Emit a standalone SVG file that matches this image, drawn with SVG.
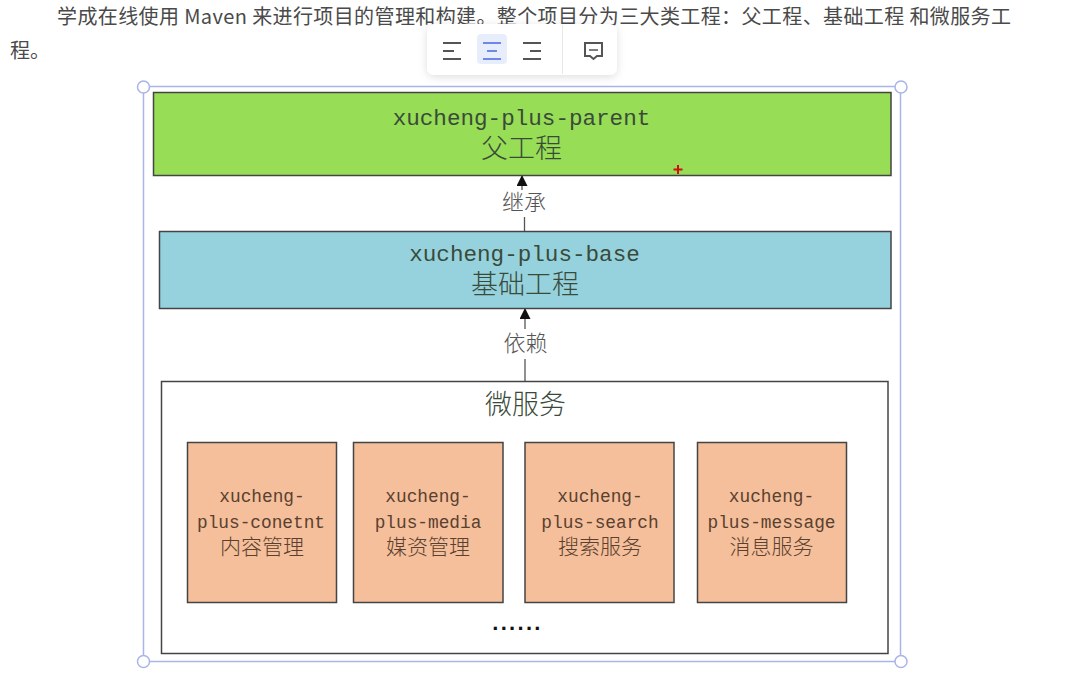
<svg xmlns="http://www.w3.org/2000/svg" width="1078" height="685" viewBox="0 0 1078 685">
<style>
.para{font-family:"Noto Sans CJK SC","Noto Sans",sans-serif;font-size:20px;fill:#4a4a4a}
.box{stroke:#444;stroke-width:1.5}
.big{font-family:"Liberation Mono","Noto Sans CJK SC",monospace;font-size:22.6px;fill:#3a4a3a;text-anchor:middle}
.bigz{font-family:"Noto Sans CJK SC",sans-serif;font-weight:300;font-size:27px;fill:#3a4a3a;text-anchor:middle}
.lab{font-family:"Noto Sans CJK SC",sans-serif;font-weight:300;font-size:22px;fill:#555;text-anchor:middle}
.sm{font-family:"Liberation Mono","Noto Sans CJK SC",monospace;font-size:17.8px;fill:#5a4030;text-anchor:middle}
.smz{font-family:"Noto Sans CJK SC",sans-serif;font-weight:300;font-size:21px}
.svc{fill:#f4bf9a}
.h{fill:#fff;stroke:#a9b4e8;stroke-width:1.5}
.tb{stroke:#555;stroke-width:2;fill:none}
.conn{stroke:#555;stroke-width:1.3;fill:none}
</style>
<defs>
<marker id="ah" markerUnits="userSpaceOnUse" markerWidth="11" markerHeight="12" refX="10" refY="5.5" orient="auto"><path d="M0,0L11,5.5L0,11Z" fill="#111"/></marker>
<filter id="sh" x="-10%" y="-20%" width="120%" height="150%"><feDropShadow dx="0" dy="2" stdDeviation="4" flood-color="#000" flood-opacity=".13"/></filter>
</defs>
<rect width="1078" height="685" fill="#fff"/>
<text class="para" x="57" y="24" textLength="954">学成在线使用 Maven 来进行项目的管理和构建。整个项目分为三大类工程：父工程、基础工程 和微服务工</text>
<text class="para" x="10" y="58">程。</text>

<g id="selection">
<rect x="143.500" y="86.500" width="757" height="575" fill="none" stroke="#a9b4e8" stroke-width="1.5"/>
<circle class="h" cx="143.500" cy="87" r="6"/>
<circle class="h" cx="901" cy="87" r="6"/>
<circle class="h" cx="143.500" cy="661.500" r="6"/>
<circle class="h" cx="901" cy="661.500" r="6"/>
</g>

<g id="toolbar">
<rect x="427" y="24" width="190" height="51" rx="7" fill="#fff" filter="url(#sh)"/>
<rect x="477" y="34" width="30" height="30" rx="4" fill="#e8edfb"/>
<path class="tb" d="M443,43H461M443,51H454M443,59H461"/>
<path class="tb" style="stroke:#6f88e6" d="M483,43H501M487,51H497M483,59H501"/>
<path class="tb" d="M523,43H541M530,51H541M523,59H541"/>
<path d="M562.500,25V74" stroke="#e8e8e8" fill="none"/>
<path class="tb" d="M585,43H602V56H597L593.500,59L590,56H585Z"/>
<path class="tb" style="stroke-width:1.500" d="M589,50H598"/>
</g>

<g id="connectors">
<path class="conn" d="M522,190V176" marker-end="url(#ah)"/>
<path class="conn" d="M524.500,217V231"/>
<path class="conn" d="M525,329V309" marker-end="url(#ah)"/>
<path class="conn" d="M525,359V381"/>
<text class="lab" x="524" y="210">继承</text>
<text class="lab" x="525.500" y="351">依赖</text>
</g>

<g id="parent">
<rect class="box" x="153.500" y="92.500" width="737.500" height="83" fill="#97dd55"/>
<text class="big"><tspan x="521.500" y="125">xucheng-plus-parent</tspan><tspan class="bigz" x="521.500" y="158">父工程</tspan></text>
</g>

<g id="base">
<rect class="box" x="159.500" y="231.500" width="731.500" height="77" fill="#95d2dd"/>
<text class="big"><tspan x="524.500" y="261">xucheng-plus-base</tspan><tspan class="bigz" x="525" y="294">基础工程</tspan></text>
</g>

<g id="microservices">
<rect class="box" x="161.500" y="381.500" width="726.500" height="272" fill="#fff"/>
<text class="bigz" x="525.500" y="414">微服务</text>
<text x="517.500" y="630" style="font-family:'Liberation Sans',sans-serif;font-size:22px;font-weight:bold;letter-spacing:2.3px;text-anchor:middle;fill:#111">......</text>
</g>

<g id="content">
<rect class="box svc" x="187.500" y="442.500" width="149" height="160"/>
<text class="sm"><tspan x="262" y="502">xucheng-</tspan><tspan x="261" y="528">plus-conetnt</tspan><tspan class="smz" x="262" y="554">内容管理</tspan></text>
</g>
<g id="media">
<rect class="box svc" x="353.500" y="442.500" width="149.500" height="160"/>
<text class="sm"><tspan x="428" y="502">xucheng-</tspan><tspan x="428" y="528">plus-media</tspan><tspan class="smz" x="428" y="554">媒资管理</tspan></text>
</g>
<g id="search">
<rect class="box svc" x="525" y="442.500" width="149" height="160"/>
<text class="sm"><tspan x="600" y="502">xucheng-</tspan><tspan x="600" y="528">plus-search</tspan><tspan class="smz" x="600" y="554">搜索服务</tspan></text>
</g>
<g id="message">
<rect class="box svc" x="697.500" y="442.500" width="149" height="160"/>
<text class="sm"><tspan x="771.500" y="502">xucheng-</tspan><tspan x="771.500" y="528">plus-message</tspan><tspan class="smz" x="771.500" y="554">消息服务</tspan></text>
</g>

<path id="cursor" d="M673.500,169.500H682.500M678,165V174" stroke="#d01010" stroke-width="2" fill="none"/>
</svg>
